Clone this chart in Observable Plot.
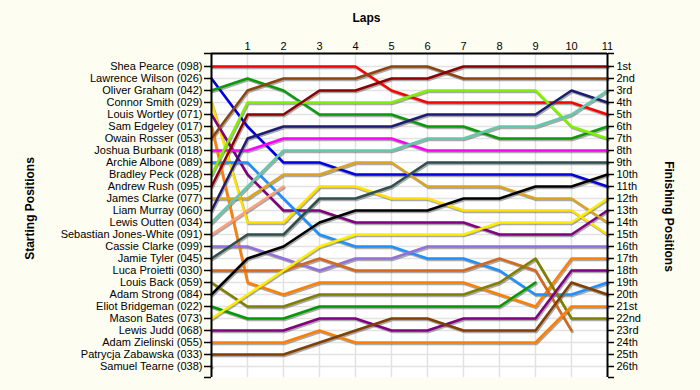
<!DOCTYPE html>
<html><head><meta charset="utf-8">
<script src="https://cdn.jsdelivr.net/npm/d3@7"></script>
<script src="https://cdn.jsdelivr.net/npm/@observablehq/plot@0.6"></script>
<style>
html,body{margin:0;padding:0;background:#fdfdf2;}
#chart svg{display:block;}
</style></head><body><div id="chart"></div>
<script>
const laps = [0,1,2,3,4,5,6,7,8,9,10,11];
const drivers = [
  "Shea Pearce (098)","Lawrence Wilson (026)","Oliver Graham (042)","Connor Smith (029)",
  "Louis Wortley (071)","Sam Edgeley (017)","Owain Rosser (053)","Joshua Burbank (018)",
  "Archie Albone (089)","Bradley Peck (028)","Andrew Rush (095)","James Clarke (077)",
  "Liam Murray (060)","Lewis Outten (034)","Sebastian Jones-White (091)","Cassie Clarke (099)",
  "Jamie Tyler (045)","Luca Proietti (030)","Louis Back (059)","Adam Strong (084)",
  "Eliot Bridgeman (022)","Mason Bates (073)","Lewis Judd (068)","Adam Zielinski (055)",
  "Patrycja Zabawska (033)","Samuel Tearne (038)"
];
const driverColors = [
  "#ff0000","#0000e0","#0a9a0a","#ffe000",
  "#800080","#ff8000","#8b4513","#ff00ff",
  "#1e90ff","#80f000","#8b0000","#daa520",
  "#1c1c70","#66c8aa","#ffa07a","#9370db",
  "#2f4f4f","#d2691e","#808000","#000000",
  "#009900","#ffee00","#800080","#ff8000",
  "#804000","#888888"
];
// position of each driver at laps 0..11 (null = not running)
const positions = [
  [1,1,1,1,1,3,4,4,4,4,4,5],          // Shea Pearce
  [2,6,9,9,10,10,10,10,10,10,10,11],  // Lawrence Wilson
  [3,2,3,5,5,5,6,6,7,7,7,6],          // Oliver Graham
  [4,14,14,11,11,12,12,13,13,13,13,15], // Connor Smith
  [5,10,13,13,14,14,14,14,15,15,15,13], // Louis Wortley
  [6,19,20,19,19,19,19,19,20,21,17,17], // Sam Edgeley
  [7,3,2,2,2,1,1,2,2,2,2,2],          // Owain Rosser
  [8,8,7,7,7,7,8,8,8,8,8,8],          // Joshua Burbank
  [9,9,12,15,16,16,17,17,18,20,20,19], // Archie Albone
  [10,4,4,4,4,4,3,3,3,3,6,7],         // Bradley Peck
  [11,5,5,3,3,2,2,1,1,1,1,1],         // Andrew Rush
  [12,12,10,10,9,9,11,11,11,12,12,14], // James Clarke
  [13,7,6,6,6,6,5,5,5,5,3,4],         // Liam Murray
  [14,11,8,8,8,8,7,7,6,6,5,3],        // Lewis Outten
  [15,13,11,null,null,null,null,null,null,null,null,null], // Sebastian Jones-White
  [16,16,17,18,17,17,16,16,16,16,16,16], // Cassie Clarke
  [17,15,15,12,12,11,9,9,9,9,9,9],    // Jamie Tyler
  [18,18,18,17,18,18,18,18,17,18,23,null], // Luca Proietti
  [19,21,21,20,20,20,20,20,19,17,22,22], // Louis Back
  [20,17,16,14,13,13,13,12,12,11,11,10], // Adam Strong
  [21,22,22,21,21,21,21,21,21,19,null,null], // Eliot Bridgeman
  [22,20,18,16,15,15,15,15,14,14,14,12], // Mason Bates
  [23,23,23,22,22,23,23,22,22,22,18,18], // Lewis Judd
  [24,24,24,23,24,24,24,24,24,24,21,21], // Adam Zielinski
  [25,25,25,24,23,22,22,23,23,23,19,20], // Patrycja Zabawska
  [26,null,null,null,null,null,null,null,null,null,null,null]  // Samuel Tearne
];
const finishLabels = ["1st","2nd","3rd","4th","5th","6th","7th","8th","9th","10th","11th","12th","13th",
  "14th","15th","16th","17th","18th","19th","20th","21st","22nd","23rd","24th","25th","26th"];
const lapTicks = [1,2,3,4,5,6,7,8,9,10,11];

const rows = [];
drivers.forEach((name, i) => positions[i].forEach((p, k) => {
  if (p != null) rows.push({driver: name, lap: laps[k], pos: p});
}));

const slots = d3.range(1, drivers.length + 1);
const yTop = -1/12, yBottom = 26 + 11/12;
const ends = [yTop, ...slots, yBottom];

const chart = Plot.plot({
  width: 700, height: 390,
  marginLeft: 211, marginRight: 93, marginTop: 53, marginBottom: 13,
  style: {background: "transparent", fontFamily: "'Liberation Sans', Arial, sans-serif", fontSize: "11px", color: "#000"},
  x: {domain: [0, 11], axis: null},
  y: {domain: [yBottom, yTop], axis: null},
  color: {domain: drivers, range: driverColors},
  marks: [
    Plot.frame({fill: "#ffffff", stroke: null}),
    Plot.ruleY(slots, {stroke: "#e2e2e2", strokeWidth: 1.5}),
    Plot.ruleX(laps.slice(1, 11), {stroke: "#e2e2e2", strokeWidth: 1.5}),
    Plot.line(rows, {x: "lap", y: "pos", z: "driver", stroke: "#555", strokeOpacity: 0.5, strokeWidth: 2.5, dx: 1, dy: 1.5, curve: "linear"}),
    Plot.line(rows, {x: "lap", y: "pos", z: "driver", stroke: "driver", strokeWidth: 2.5, curve: "linear"}),
    Plot.ruleX([0, 11], {stroke: "#000", strokeWidth: 2}),
    Plot.ruleY([yTop], {stroke: "#000", strokeWidth: 2}),
    Plot.axisY(ends, {anchor: "left", tickSize: 7, tickPadding: 2, strokeWidth: 1.5, label: null,
      tickFormat: d => Number.isInteger(d) ? drivers[d - 1] : ""}),
    Plot.axisY(ends, {anchor: "right", tickSize: 6, tickPadding: 3, strokeWidth: 1.5, label: null,
      tickFormat: d => Number.isInteger(d) ? finishLabels[d - 1] : ""}),
    Plot.axisX(lapTicks, {anchor: "top", tickSize: 0, tickPadding: 4, label: null}),
    Plot.text(["Laps"], {frameAnchor: "top", dx: -43, dy: -35, lineAnchor: "middle", fontWeight: "bold", fontSize: 12}),
    Plot.text(["Starting Positions"], {frameAnchor: "left", dx: -181, dy: -7, rotate: -90, textAnchor: "middle", lineAnchor: "middle", fontWeight: "bold", fontSize: 12}),
    Plot.text(["Finishing Positions"], {frameAnchor: "right", dx: 61, dy: 1, rotate: 90, textAnchor: "middle", lineAnchor: "middle", fontWeight: "bold", fontSize: 12})
  ]
});
document.getElementById("chart").appendChild(chart);
</script>
</body></html>
